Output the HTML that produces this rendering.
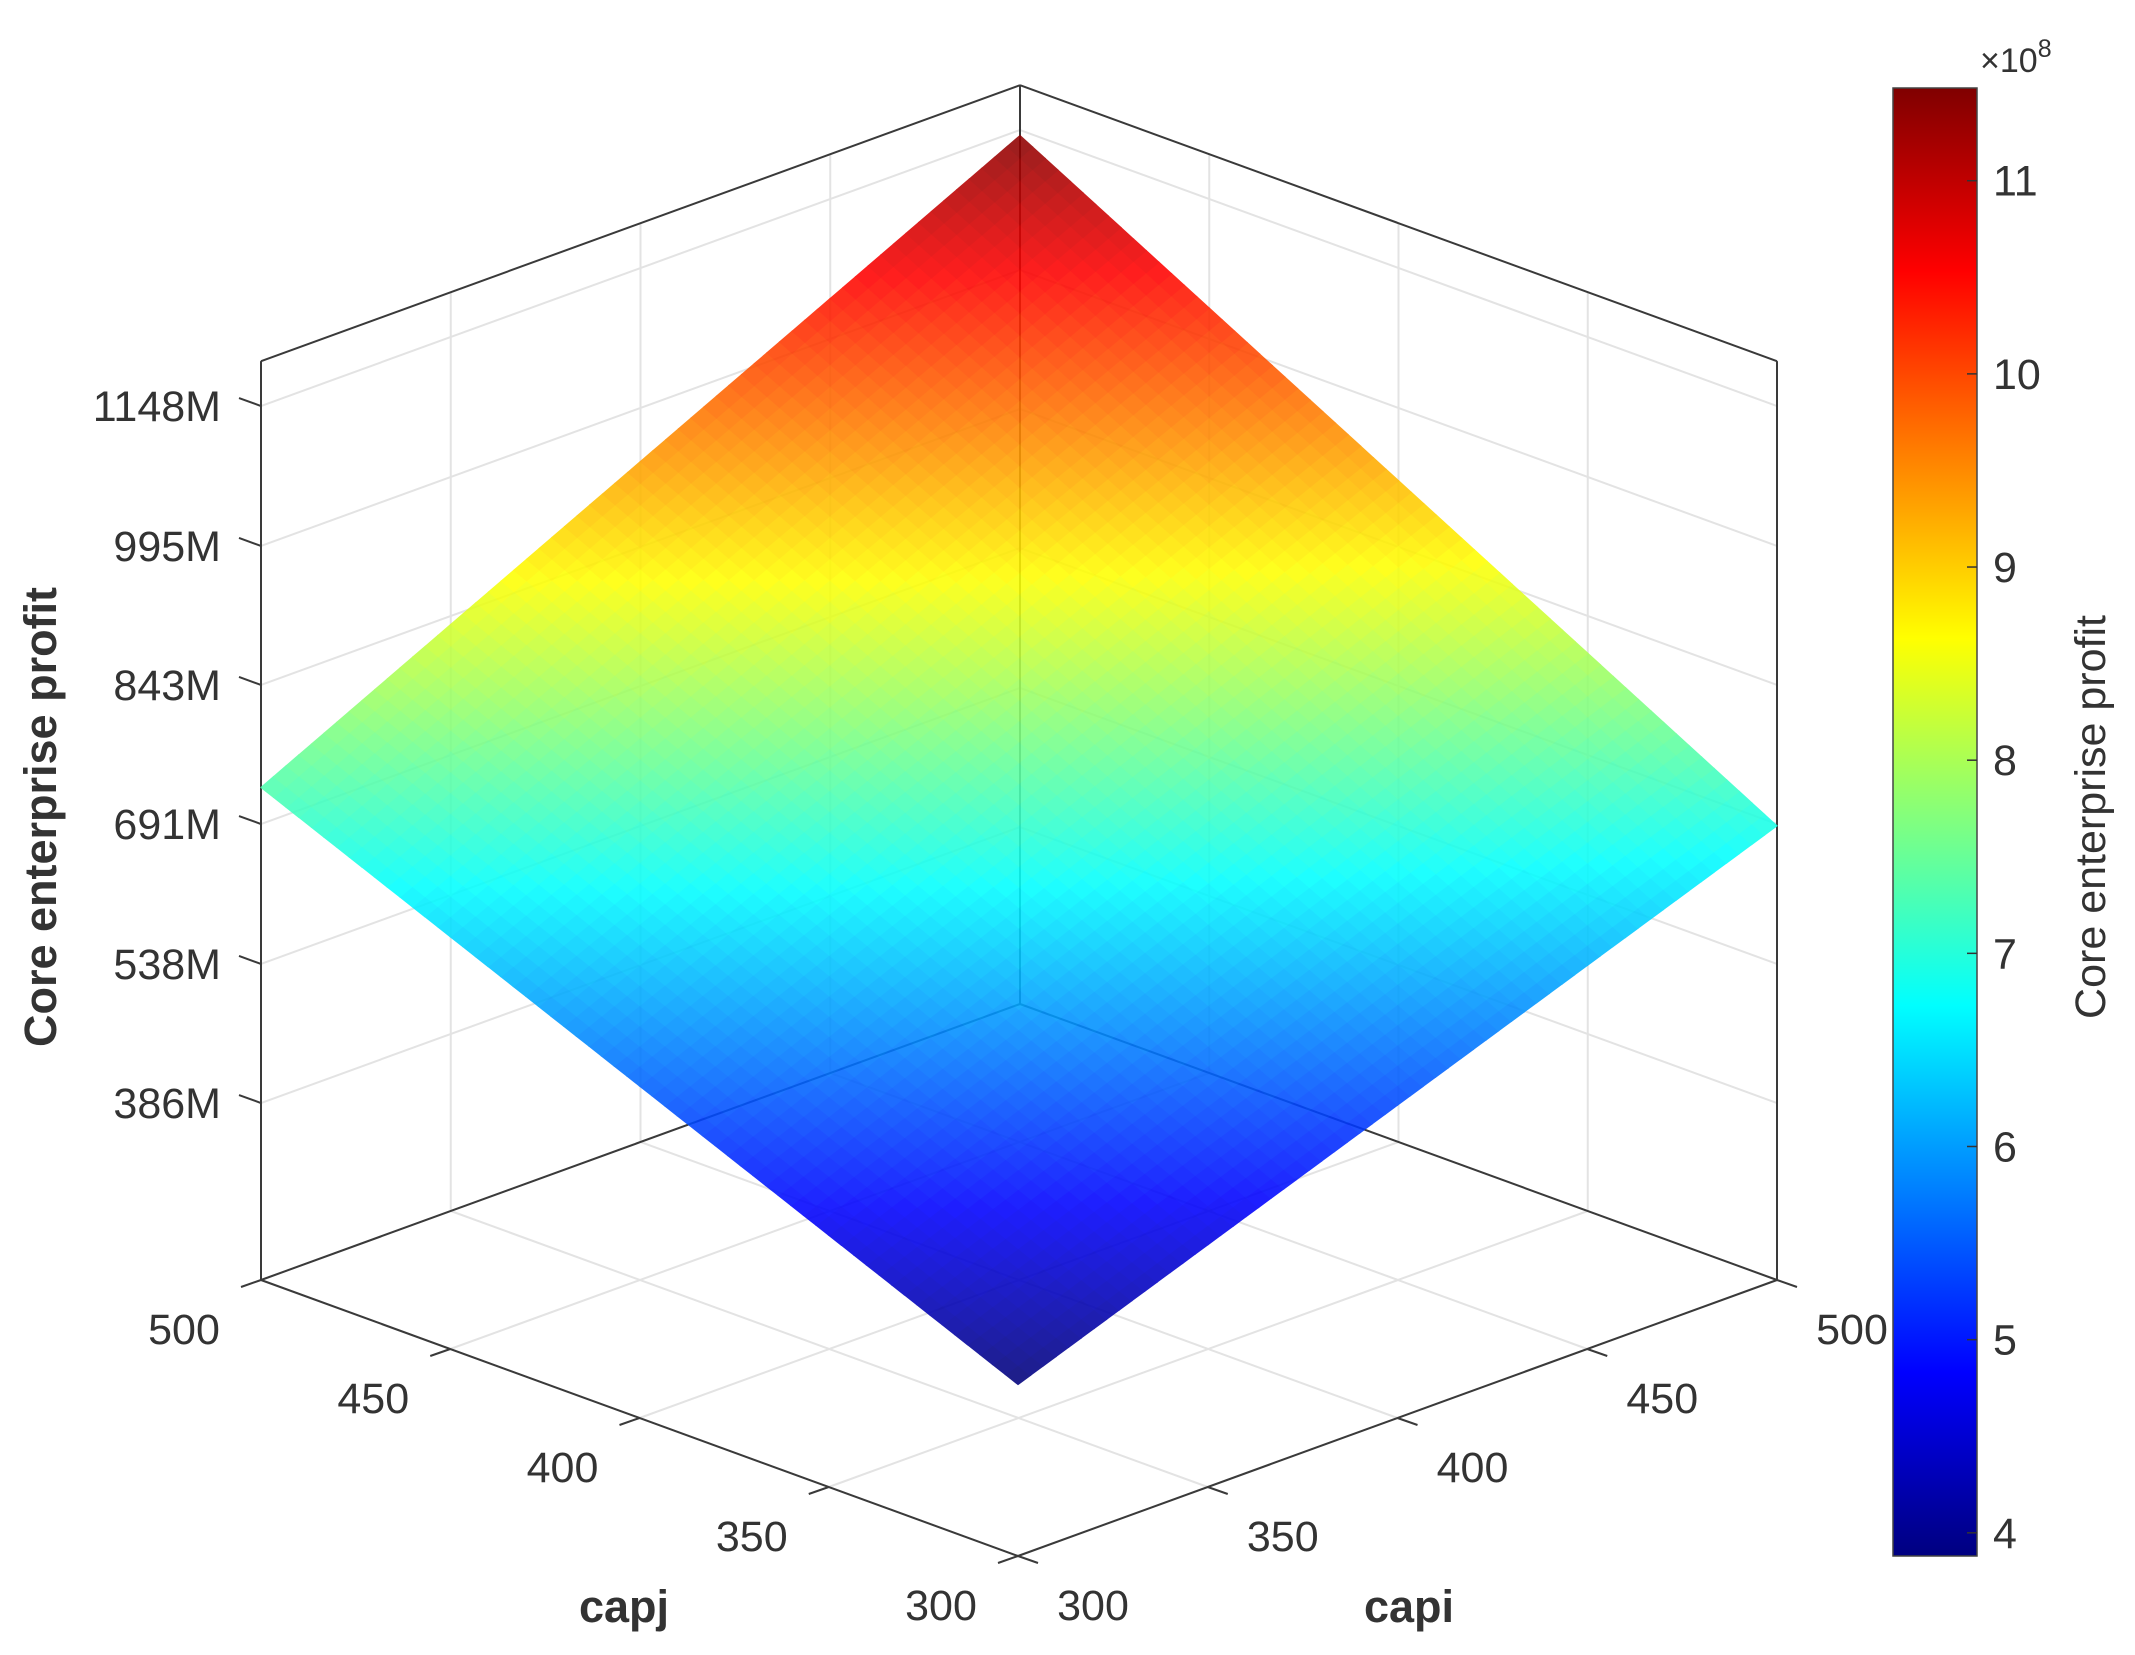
<!DOCTYPE html>
<html><head><meta charset="utf-8"><style>
html,body{margin:0;padding:0;background:#fff;}
svg{display:block;font-family:"Liberation Sans",Arial,sans-serif;}
</style></head><body>
<svg id="chart" width="2135" height="1655" viewBox="0 0 2135 1655" xmlns="http://www.w3.org/2000/svg">
<defs><linearGradient id="jetGrad" x1="0" y1="1" x2="0" y2="0"></linearGradient></defs>
<g id="grid"></g>
<g id="box"></g>
<g id="surf" opacity="0.88"></g>
<g id="ticks"></g>
<g id="cbar"></g>
</svg>
<script>
const capiValues = [300, 500];
const capjValues = [300, 500];
// surface z (millions): rows = capi, cols = capj
const zGrid = [[380, 731], [689, 1142]];
const xyTicks = [300, 350, 400, 450, 500];
const zTicks = [386, 538, 691, 843, 995, 1148];
const zTickLabels = ["386M","538M","691M","843M","995M","1148M"];
const cbarTicks = [4, 5, 6, 7, 8, 9, 10, 11];
const cLimits = [388, 1148];

const NS = "http://www.w3.org/2000/svg";
const FRONT = [1018, 1556], VI = [759, -276], VJ = [-757, -276];
const ZF = 192.5, ZT = 1197, KZ = 0.9147;
function P(ci, cj, z) {
  const a = (ci - 300) / 200, b = (cj - 300) / 200;
  return [FRONT[0] + a * VI[0] + b * VJ[0], FRONT[1] + a * VI[1] + b * VJ[1] - (z - ZF) * KZ];
}
function mk(tag, attrs, parent) {
  const e = document.createElementNS(NS, tag);
  for (const k in attrs) e.setAttribute(k, attrs[k]);
  parent.appendChild(e); return e;
}
function line(p, q, stroke, w, parent, name) {
  const e = mk("line", {x1: p[0], y1: p[1], x2: q[0], y2: q[1], stroke: stroke, "stroke-width": w}, parent);
  
  
  return e;
}
function jet(t) {
  const c = v => Math.max(0, Math.min(1, v));
  const r = c(1.5 - Math.abs(4 * t - 3)), g = c(1.5 - Math.abs(4 * t - 2)), b = c(1.5 - Math.abs(4 * t - 1));
  return `rgb(${Math.round(r * 255)},${Math.round(g * 255)},${Math.round(b * 255)})`;
}
const grid = document.getElementById("grid"), box = document.getElementById("box");
const surf = document.getElementById("surf"), ticks = document.getElementById("ticks"), cbar = document.getElementById("cbar");
const GC = "#e3e3e3", LC = "#3a3a3a";
xyTicks.forEach(v => {
  line(P(v, 300, ZF), P(v, 500, ZF), GC, 2, grid, 'floor-grid-capi');
  line(P(300, v, ZF), P(500, v, ZF), GC, 2, grid, 'floor-grid-capj');
  line(P(v, 500, ZF), P(v, 500, ZT), GC, 2, grid, 'wall-grid-capi');
  line(P(500, v, ZF), P(500, v, ZT), GC, 2, grid, 'wall-grid-capj');
});
zTicks.forEach(z => {
  line(P(300, 500, z), P(500, 500, z), GC, 2, grid, 'wall-grid-z');
  line(P(500, 500, z), P(500, 300, z), GC, 2, grid, 'wall-grid-z');
});
[[[500,500,ZT],[300,500,ZT]],[[500,500,ZT],[500,300,ZT]],[[300,500,ZT],[300,500,ZF]],[[500,300,ZT],[500,300,ZF]],
 [[300,500,ZF],[300,300,ZF]],[[300,300,ZF],[500,300,ZF]],[[500,500,ZT],[500,500,ZF]],[[500,500,ZF],[300,500,ZF]],[[500,500,ZF],[500,300,ZF]]]
 .forEach(s => line(P(...s[0]), P(...s[1]), LC, 2, box, 'box-edge'));
function zAt(ci, cj) {
  const a = (ci - capiValues[0]) / (capiValues[1] - capiValues[0]), b = (cj - capjValues[0]) / (capjValues[1] - capjValues[0]);
  return zGrid[0][0] * (1 - a) * (1 - b) + zGrid[1][0] * a * (1 - b) + zGrid[0][1] * (1 - a) * b + zGrid[1][1] * a * b;
}
const N = 60;
for (let i = 0; i < N; i++) for (let j = 0; j < N; j++) {
  const c0 = capiValues[0] + (capiValues[1] - capiValues[0]) * i / N, c1 = capiValues[0] + (capiValues[1] - capiValues[0]) * (i + 1) / N;
  const d0 = capjValues[0] + (capjValues[1] - capjValues[0]) * j / N, d1 = capjValues[0] + (capjValues[1] - capjValues[0]) * (j + 1) / N;
  const pts = [[c0,d0],[c1,d0],[c1,d1],[c0,d1]].map(q => P(q[0], q[1], zAt(q[0], q[1])));
  const zm = zAt((c0 + c1) / 2, (d0 + d1) / 2);
  const col = jet((zm - cLimits[0]) / (cLimits[1] - cLimits[0]));
  const e = mk("polygon", {points: pts.map(p => p.join(",")).join(" "), fill: col, stroke: col, "stroke-width": 1.2}, surf);
  
  
}
function text(x, y, s, size, anchor, weight, parent, name, rot) {
  const e = mk("text", {x: x, y: y, "font-size": size, "text-anchor": anchor, fill: "#333", "font-weight": weight || "normal"}, parent);
  if (rot) e.setAttribute("transform", `rotate(${rot} ${x} ${y})`);
  e.textContent = s;
  
  
  return e;
}
zTicks.forEach((z, k) => {
  const p = P(300, 500, z);
  line(p, [p[0] - 22, p[1] - 8], LC, 2, ticks, 'z-tick');
  text(p[0] - 40, p[1] + 15, zTickLabels[k], 43, "end", "normal", ticks, 'z-tick-label');
});
xyTicks.forEach(v => {
  const pj = P(300, v, ZF);
  line(pj, [pj[0] - 20, pj[1] + 7], LC, 2, ticks, 'capj-tick');
  text(pj[0] - 77, pj[1] + 64, String(v), 43, "middle", "normal", ticks, 'capj-tick-label');
  const pi = P(v, 300, ZF);
  line(pi, [pi[0] + 20, pi[1] + 7], LC, 2, ticks, 'capi-tick');
  text(pi[0] + 75, pi[1] + 64, String(v), 43, "middle", "normal", ticks, 'capi-tick-label');
});
text(624, 1622, "capj", 45, "middle", "bold", ticks, 'capj-axis-title');
text(1409, 1622, "capi", 45, "middle", "bold", ticks, 'capi-axis-title');
text(56, 817, "Core enterprise profit", 45, "middle", "bold", ticks, 'z-axis-title', -90);
const grad = document.getElementById("jetGrad");
for (let s = 0; s <= 32; s++) mk("stop", {offset: s / 32, "stop-color": jet(s / 32)}, grad);
const CB = {x: 1893, w: 84, top: 88, bot: 1556, vmin: 3.88, vmax: 11.48};
const cy = v => CB.bot - (v - CB.vmin) / (CB.vmax - CB.vmin) * (CB.bot - CB.top);
const r = mk("rect", {x: CB.x, y: CB.top, width: CB.w, height: CB.bot - CB.top, fill: "url(#jetGrad)", stroke: "#444", "stroke-width": 1.5}, cbar);


cbarTicks.forEach(v => {
  const y = cy(v);
  line([CB.x + CB.w - 10, y], [CB.x + CB.w, y], "#333", 1.5, cbar, 'colorbar-tick');
  text(CB.x + CB.w + 16, y + 15, String(v), 43, "start", "normal", cbar, 'colorbar-tick-label');
});
const ex = text(1980, 72, "×10", 34, "start", "normal", cbar, 'colorbar-exponent');
const sup = document.createElementNS(NS, "tspan");
sup.setAttribute("dy", "-15"); sup.setAttribute("font-size", "25"); sup.textContent = "8"; ex.appendChild(sup);
text(2105, 817, "Core enterprise profit", 43, "middle", "normal", cbar, 'colorbar-title', -90);
</script>
</body></html>
